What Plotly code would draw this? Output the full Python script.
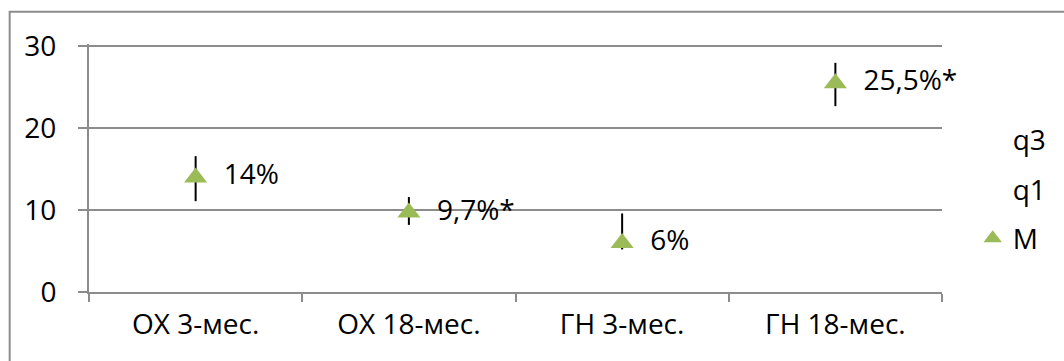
import plotly.graph_objects as go

# Medians with interquartile ranges per group
categories = ["ОХ 3-мес.", "ОХ 18-мес.", "ГН 3-мес.", "ГН 18-мес."]
q3_values = [16.6, 11.6, 9.6, 28.0]
q1_values = [11.1, 8.2, 5.2, 22.7]
m_values = [14.0, 9.7, 6.0, 25.5]
m_labels = ["14%", "9,7%*", "6%", "25,5%*"]
y_ticks = [0, 10, 20, 30]

FONT = "Open Sans"
FS = 28
GRID = "#8c8c8c"
GREEN = "#9bbb59"

# high-low segments from q1 to q3
seg_x, seg_y = [], []
for c, lo, hi in zip(categories, q1_values, q3_values):
    seg_x += [c, c, None]
    seg_y += [lo, hi, None]

fig = go.Figure()
fig.add_trace(go.Scatter(
    x=seg_x, y=seg_y, mode="lines",
    line=dict(color="#000000", width=2),
    showlegend=False, hoverinfo="skip",
))
fig.add_trace(go.Scatter(
    x=categories, y=q3_values, name="q3", mode="markers",
    marker=dict(color="rgba(0,0,0,0)", size=1),
    legendgroup="q3",
))
fig.add_trace(go.Scatter(
    x=categories, y=q1_values, name="q1", mode="markers",
    marker=dict(color="rgba(0,0,0,0)", size=1),
    legendgroup="q1",
))
fig.add_trace(go.Scatter(
    x=categories, y=m_values, name="M", mode="markers+text",
    marker=dict(symbol="triangle-up", color=GREEN, size=20),
    text=["  " + t for t in m_labels], textposition="middle right",
    textfont=dict(family=FONT, size=FS, color="#000000"),
    cliponaxis=False,
    legendgroup="M",
))

fig.update_layout(
    width=1064, height=361,
    margin=dict(l=89, r=118, t=44, b=69),
    paper_bgcolor="white", plot_bgcolor="white",
    font=dict(family=FONT, size=FS, color="#000000"),
    showlegend=True,
    legend=dict(
        x=1.036, xanchor="left", y=0.715, yanchor="top",
        traceorder="grouped", tracegroupgap=10,
        font=dict(family=FONT, size=FS),
        bgcolor="rgba(0,0,0,0)",
    ),
    xaxis=dict(
        type="category", categoryorder="array", categoryarray=categories,
        range=[-0.5, 3.5], showgrid=False, zeroline=False,
        showline=True, linecolor=GRID, linewidth=2,
        ticks="outside", tickson="boundaries", ticklen=8,
        tickcolor=GRID, tickwidth=2, ticklabelstandoff=6,
        tickfont=dict(family=FONT, size=FS),
    ),
    yaxis=dict(
        range=[0, 30.3], tickvals=y_ticks, showgrid=True,
        gridcolor=GRID, gridwidth=2, zeroline=False,
        showline=True, linecolor=GRID, linewidth=2,
        ticks="outside", ticklen=9, tickcolor=GRID, tickwidth=2,
        ticklabelstandoff=16,
        tickfont=dict(family=FONT, size=FS),
    ),
    shapes=[dict(
        type="rect", xref="paper", yref="paper",
        x0=-0.093, x1=1.3, y0=-0.6, y1=1.13,
        line=dict(color=GRID, width=2), fillcolor="rgba(0,0,0,0)",
        layer="below",
    )],
)

fig.write_html("out.html")
